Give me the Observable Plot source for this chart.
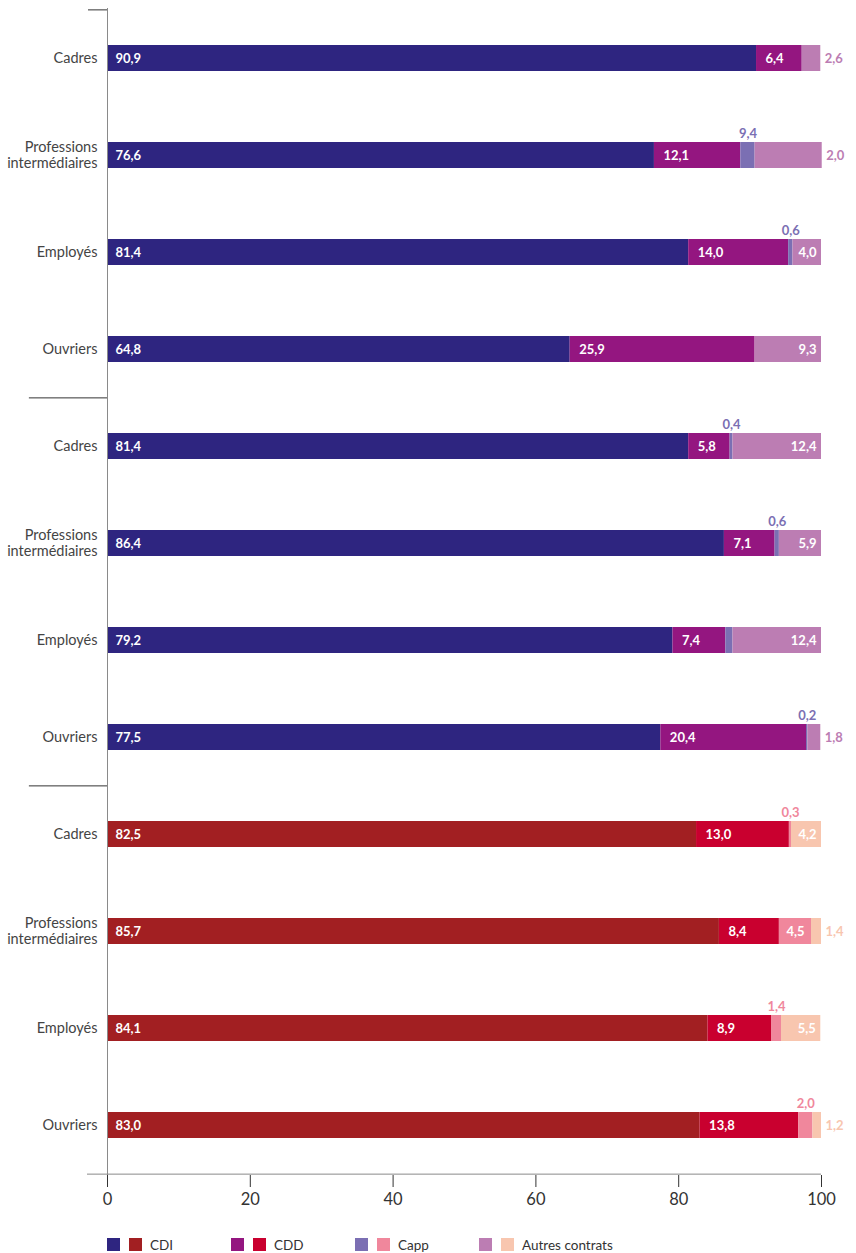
<!DOCTYPE html>
<html>
<head>
<meta charset="utf-8">
<script src="https://cdn.jsdelivr.net/npm/d3@7"></script>
<script src="https://cdn.jsdelivr.net/npm/@observablehq/plot@0.6"></script>
<style>
  body { margin: 0; background: #fff; font-family: Lato, "Noto Sans", sans-serif; }
  #chart svg { display: block; }
  #legend { display: flex; padding-left: 107px; padding-top: 11px; height: 28px; box-sizing: border-box; align-items: center; font-size: 13.5px; color: #333; white-space: nowrap; }
  #legend .item { display: flex; align-items: center; width: 124px; flex: none; }
  #legend .sw { width: 13px; height: 13px; margin-right: 9px; flex: none; }
  #legend .lab { margin-left: -1px; white-space: nowrap; }
</style>
</head>
<body>
<div id="chart"></div>
<div id="legend"></div>
<script>
// ---- data ----
const categories = [
  "Cadres", "Professions\nintermédiaires", "Employés", "Ouvriers",
  "Cadres", "Professions\nintermédiaires", "Employés", "Ouvriers",
  "Cadres", "Professions\nintermédiaires", "Employés", "Ouvriers"
];
const groups = [0, 0, 0, 0, 1, 1, 1, 1, 2, 2, 2, 2];
const series = ["CDI", "CDD", "Capp", "Autres contrats"];
const cdi    = [90.9, 76.6, 81.4, 64.8, 81.4, 86.4, 79.2, 77.5, 82.5, 85.7, 84.1, 83.0];
const cdd    = [6.4, 12.1, 14.0, 25.9, 5.8, 7.1, 7.4, 20.4, 13.0, 8.4, 8.9, 13.8];
const capp   = [0, 2.0, 0.6, 0, 0.4, 0.6, 1.0, 0.2, 0.3, 4.5, 1.4, 2.0];
const autres = [2.6, 9.4, 4.0, 9.3, 12.4, 5.9, 12.4, 1.8, 4.2, 1.4, 5.5, 1.2];
const cappLabels   = ["", "9,4", "0,6", "", "0,4", "0,6", "", "0,2", "0,3", "4,5", "1,4", "2,0"];
const autresLabels = ["2,6", "2,0", "4,0", "9,3", "12,4", "5,9", "12,4", "1,8", "4,2", "1,4", "5,5", "1,2"];
const palettes = [
  ["#2E2580", "#941680", "#7B6FB3", "#BC7DB3"],
  ["#2E2580", "#941680", "#7B6FB3", "#BC7DB3"],
  ["#A21F22", "#C9002F", "#F0879C", "#F8C6AF"]
];
const xTicks = [0, 20, 40, 60, 80, 100];

// ---- build table ----
const fmt = v => v.toFixed(1).replace(".", ",");
const num = s => +String(s).replace(",", ".");
const rows = categories.map((c, i) => i);
const segs = [];
rows.forEach(i => {
  const vals = [cdi[i], cdd[i], capp[i], autres[i]];
  const labels = [fmt(cdi[i]), fmt(cdd[i]), cappLabels[i], autresLabels[i]];
  let acc = 0;
  vals.forEach((v, k) => {
    segs.push({row: i, k, x1: acc, x2: acc + v, mid: acc + v / 2, value: v, label: labels[k], color: palettes[groups[i]][k]});
    acc += v;
  });
});

const W = 856, H = 1225, mTop = 8, mBottom = 50, mLeft = 107, mRight = 35;
const step = (H - mTop - mBottom) / rows.length;
const pIn = 0.73;
const bw = step * (1 - pIn);
const groupStarts = rows.filter(i => i > 0 && groups[i] !== groups[i - 1]);

const labelFont = "Lato, 'Noto Sans', sans-serif";
const cdiLabels = segs.filter(d => d.k === 0);
const cddLabels = segs.filter(d => d.k === 1);
const cappInside = segs.filter(d => d.k === 2 && d.value >= 3 && d.label);
const cappAbove = segs.filter(d => d.k === 2 && d.value < 3 && d.label);
const autresInside = segs.filter(d => d.k === 3 && num(d.label) >= 3);
const autresOutside = segs.filter(d => d.k === 3 && num(d.label) < 3);
const lab = {fontSize: 13, fontWeight: "bold", fontFamily: labelFont};

const plot = Plot.plot({
  width: W, height: H,
  marginTop: mTop, marginBottom: mBottom, marginLeft: mLeft, marginRight: mRight,
  style: {fontFamily: labelFont, fontSize: "16.5px", color: "#333", background: "#fff"},
  x: {domain: [0, 100], ticks: xTicks, tickSize: 12, tickPadding: 6, tickFormat: d => String(d), label: null},
  y: {type: "band", domain: rows, paddingInner: pIn, paddingOuter: pIn / 2, axis: null},
  color: {type: "identity"},
  marks: [
    Plot.barX(segs.filter(d => d.value > 0), {y: "row", x1: "x1", x2: "x2", fill: "color"}),
    Plot.ruleX([0], {stroke: "#8a8a8a"}),
    Plot.ruleY([0], {y: d => d, x1: -2.66, x2: 0, dy: -step / 2, stroke: "#333"}),
    Plot.ruleY(groupStarts, {y: d => d, x1: -10.94, x2: 0, dy: -step / 2, stroke: "#333"}),
    Plot.ruleY([rows.length - 1], {y: d => d, x1: -2.8, x2: 100, dy: step / 2, stroke: "#8a8a8a"}),
    Plot.text(rows, {x: 0, y: d => d, text: d => categories[d], textAnchor: "end", dx: -10, dy: -1, fontSize: 14.5, fill: "#444", lineHeight: 1.12, fontFamily: labelFont}),
    Plot.text(cdiLabels, {x: "x1", y: "row", text: "label", textAnchor: "start", dx: 8, fill: "white", ...lab}),
    Plot.text(cddLabels, {x: "x1", y: "row", text: "label", textAnchor: "start", dx: 9, fill: "white", ...lab}),
    Plot.text(cappInside, {x: "mid", y: "row", text: "label", textAnchor: "middle", fill: "white", ...lab}),
    Plot.text(cappAbove, {x: "mid", y: "row", text: "label", textAnchor: "middle", dy: -(bw / 2 + 9), fill: "color", ...lab}),
    Plot.text(autresInside, {x: "x2", y: "row", text: "label", textAnchor: "end", dx: -5, fill: "white", ...lab}),
    Plot.text(autresOutside, {x: "x2", y: "row", text: "label", textAnchor: "start", dx: 4, fill: "color", ...lab})
  ]
});
document.getElementById("chart").append(plot);

// ---- legend ----
const legend = d3.select("#legend");
series.forEach((s, k) => {
  const item = legend.append("div").attr("class", "item");
  item.append("div").attr("class", "sw").style("background", palettes[0][k]);
  item.append("div").attr("class", "sw").style("background", palettes[2][k]);
  item.append("div").attr("class", "lab").text(s);
});
</script>
</body>
</html>
